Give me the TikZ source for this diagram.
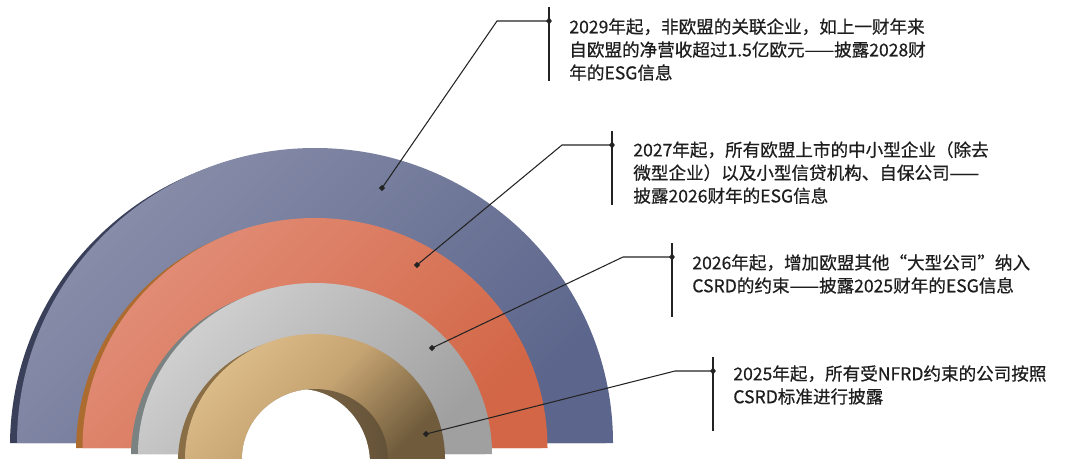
\documentclass[tikz,border=0pt]{standalone}
\usepackage{fontspec}
\setmainfont{Noto Sans CJK SC}[FakeBold=0.6]
\usetikzlibrary{shapes.geometric}

\definecolor{blueL}{RGB}{138,143,170}
\definecolor{blueD}{RGB}{92,102,140}
\definecolor{blueS}{RGB}{58,64,90}
\definecolor{salmL}{RGB}{226,142,120}
\definecolor{salmD}{RGB}{210,102,70}
\definecolor{salmS}{RGB}{172,108,48}
\definecolor{grayL}{RGB}{210,210,210}
\definecolor{grayD}{RGB}{160,160,160}
\definecolor{grayS}{RGB}{122,130,130}
\definecolor{tanL}{RGB}{222,190,138}
\definecolor{tanM}{RGB}{198,164,114}
\definecolor{tanD}{RGB}{112,92,60}
\definecolor{tanS}{RGB}{138,110,70}
\definecolor{wallL}{RGB}{140,114,78}
\definecolor{wallD}{RGB}{100,82,56}
\definecolor{lineC}{RGB}{35,35,35}
\definecolor{txtC}{RGB}{30,30,30}

\begin{document}
\begin{tikzpicture}[x=0.2mm,y=-0.2mm,
  ringmark/.style={fill=lineC,inner sep=0pt,minimum size=2.6pt,rotate=45},
  bardot/.style={diamond,fill=lineC,inner sep=0pt,minimum width=3.4pt,minimum height=4.4pt},
  leader/.style={draw=lineC,line width=0.6pt},
  bar/.style={draw=lineC,line width=0.7pt},
  note/.style={anchor=north west,inner sep=0pt,align=left,text=txtC,font=\fontsize{10pt}{13.1pt}\selectfont}]
\useasboundingbox (0,0) rectangle (1080,467);

% Blue ring (back)
\fill [blueS] (10,443) arc [start angle=180.6,end angle=359.4,x radius=298,y radius=295] -- cycle;
\shade [top color=blueL,bottom color=blueD,shading angle=45] (17,443) arc [start angle=180,end angle=360,x radius=298,y radius=295] -- cycle;

% Salmon ring
\fill [salmS] (76,448) arc [start angle=180.75,end angle=359.25,x radius=232.5,y radius=230] -- cycle;
\shade [top color=salmL,bottom color=salmD,shading angle=45] (82.5,448) arc [start angle=180,end angle=360,x radius=232.5,y radius=230] -- cycle;

% Gray ring
\fill [grayS] (131,454) arc [start angle=181,end angle=359,x radius=177,y radius=171] -- cycle;
\shade [top color=grayL,bottom color=grayD,shading angle=45] (138,454) arc [start angle=180,end angle=360,x radius=177,y radius=171] -- cycle;

% Tan ring (front)
\fill [tanS] (178,459) arc [start angle=181.4,end angle=358.6,x radius=130,y radius=125] -- cycle;
\shade [top color=tanL,bottom color=tanD,middle color=tanM,shading angle=45] (185,459) arc [start angle=180,end angle=360,x radius=130,y radius=125] -- cycle;

% hole with inner wall
\shade [left color=wallL,right color=wallD] (242,459) arc [start angle=180,end angle=360,x radius=73,y radius=70] -- cycle;
\begin{scope}
\clip (242,459) arc [start angle=180,end angle=360,x radius=73,y radius=70] -- cycle;
\fill [white] (228,464) arc [start angle=180,end angle=360,x radius=71,y radius=75] -- cycle;
\end{scope}
\fill [white] (170,459) rectangle (460,467);

% markers on the rings
\node [ringmark] (m1) at (382,188) {};
\node [ringmark] (m2) at (417,265) {};
\node [ringmark] (m3) at (432,348) {};
\node [ringmark] (m4) at (426,434) {};

% bend points and bar ends
\coordinate (k1) at (497,21);
\coordinate (k2) at (562,145);
\coordinate (k3) at (623,257);
\coordinate (k4) at (675,371);
\coordinate (b1t) at (549,7);   \coordinate (b1b) at (549,81);
\coordinate (b2t) at (612,131); \coordinate (b2b) at (612,205);
\coordinate (b3t) at (672,243); \coordinate (b3b) at (672,317);
\coordinate (b4t) at (713,357); \coordinate (b4b) at (713,431);

% bars
\draw [bar] (b1t) -- (b1b);
\draw [bar] (b2t) -- (b2b);
\draw [bar] (b3t) -- (b3b);
\draw [bar] (b4t) -- (b4b);
\node [bardot] (d1) at (549,21) {};
\node [bardot] (d2) at (612,145) {};
\node [bardot] (d3) at (672,257) {};
\node [bardot] (d4) at (713,371) {};

% leaders
\draw [leader] (m1.center) -- (k1) -- (d1.center);
\draw [leader] (m2.center) -- (k2) -- (d2.center);
\draw [leader] (m3.center) -- (k3) -- (d3.center);
\draw [leader] (m4.center) -- (k4) -- (d4.center);

% texts
\node [note] (t1) at (569,18) {2029年起，非欧盟的关联企业，如上一财年来\\自欧盟的净营收超过1.5亿欧元——披露2028财\\年的ESG信息};
\node [note] (t2) at (633,141) {2027年起，所有欧盟上市的中小型企业（除去\\微型企业）以及小型信贷机构、自保公司——\\披露2026财年的ESG信息};
\node [note] (t3) at (692,254) {2026年起，增加欧盟其他“大型公司”纳入\\CSRD的约束——披露2025财年的ESG信息};
\node [note] (t4) at (733,365) {2025年起，所有受NFRD约束的公司按照\\CSRD标准进行披露};

\end{tikzpicture}
\end{document}
